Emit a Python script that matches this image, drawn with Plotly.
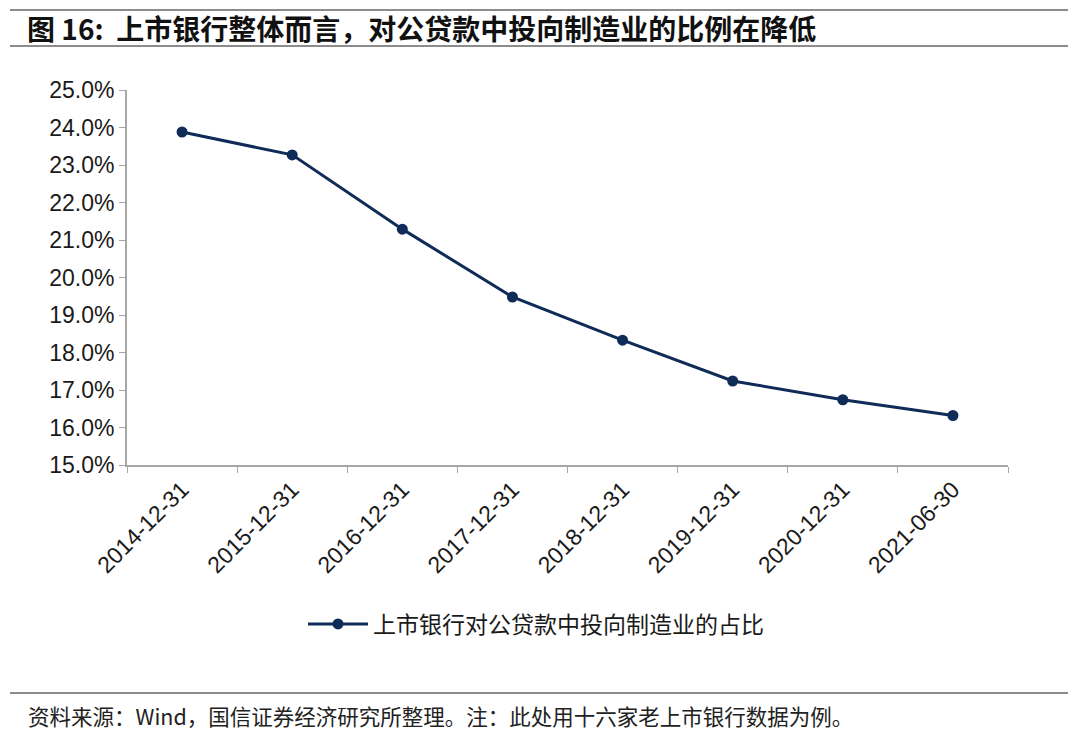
import plotly.graph_objects as go

categories = ["2014-12-31", "2015-12-31", "2016-12-31", "2017-12-31",
              "2018-12-31", "2019-12-31", "2020-12-31", "2021-06-30"]
share_pct = [23.88, 23.27, 21.29, 19.48, 18.33, 17.24, 16.74, 16.32]
series_name = "上市银行对公贷款中投向制造业的占比"
title_text = "图 16:  上市银行整体而言，对公贷款中投向制造业的比例在降低"
source_text = "资料来源：Wind，国信证券经济研究所整理。注：此处用十六家老上市银行数据为例。"
y_ticks = [15, 16, 17, 18, 19, 20, 21, 22, 23, 24, 25]

W, H = 1080, 736
OFF = 8  # page body margin
L, R, T, B = 127 - OFF, 1008 - OFF, 90 - OFF, 465 - OFF

def px(x):
    return (x - OFF - L) / (R - L)

def py(y):
    return (B - (y - OFF)) / (B - T)

navy = "#0f2b57"
axis_gray = "#a6a6a6"
line_gray = "#8c8c8c"

fig = go.Figure()
fig.add_trace(go.Scatter(
    x=categories, y=share_pct, mode="lines+markers", name=series_name,
    line=dict(color=navy, width=3),
    marker=dict(color=navy, size=11),
))

fig.update_layout(
    width=W, height=H,
    margin=dict(l=L, r=W - R, t=T, b=H - B),
    paper_bgcolor="white", plot_bgcolor="white",
    font=dict(family="Liberation Sans, Arial, sans-serif", color="#1a1a1a", size=20),
    showlegend=True,
    legend=dict(
        orientation="h", x=px(303), y=py(624), xanchor="left", yanchor="middle",
        font=dict(family="Noto Sans CJK SC", size=23, color="#1a1a1a"),
        itemwidth=60, bgcolor="rgba(0,0,0,0)",
    ),
    xaxis=dict(
        type="category", range=[-0.5, 7.5], showgrid=False,
        showline=True, linecolor=axis_gray, linewidth=2,
        ticks="outside", tickson="boundaries", ticklen=6, tickcolor=axis_gray,
        tickangle=-45, tickfont=dict(size=23, family="Liberation Sans"),
        zeroline=False,
    ),
    yaxis=dict(
        range=[15, 25], tickvals=y_ticks, ticktext=[f"{v:.1f}%" for v in y_ticks],
        showgrid=False, showline=True, linecolor=axis_gray, linewidth=2,
        ticks="outside", ticklen=6, tickcolor=axis_gray,
        tickfont=dict(size=23, family="Liberation Sans"), zeroline=False,
    ),
)

# header / footer rules
for ypix in (10, 46, 693):
    fig.add_shape(type="line", xref="paper", yref="paper",
                  x0=px(10), x1=px(1068), y0=py(ypix), y1=py(ypix),
                  line=dict(color=line_gray, width=2))

fig.add_annotation(text="<b>" + title_text + "</b>", xref="paper", yref="paper",
                   x=px(25), y=py(28), xanchor="left", yanchor="middle",
                   showarrow=False,
                   font=dict(family="Noto Sans CJK SC", size=28, color="#111111"))
fig.add_annotation(text=source_text, xref="paper", yref="paper",
                   x=px(26), y=py(715), xanchor="left", yanchor="middle",
                   showarrow=False,
                   font=dict(family="Noto Sans CJK SC", size=21.5, color="#222222"))

fig.write_html("out.html")
